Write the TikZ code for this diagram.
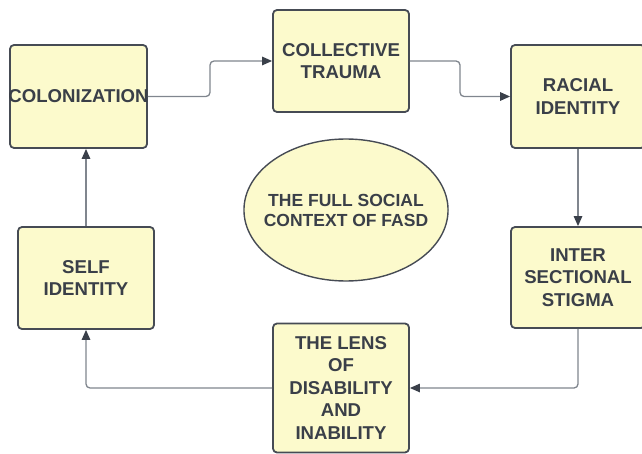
\documentclass[tikz,border=0pt]{standalone}
\usepackage{fontspec}
\setmainfont{Liberation Sans}
\usetikzlibrary{arrows.meta,calc,shapes.geometric}
\definecolor{boxfill}{RGB}{252,250,204}
\definecolor{boxline}{RGB}{70,75,84}
\definecolor{txt}{RGB}{58,63,72}
\definecolor{conn}{RGB}{128,134,142}
\definecolor{tipc}{RGB}{58,64,74}
\tikzset{
  box/.style={draw=boxline, line width=1.8pt, fill=boxfill, rounded corners=4pt,
    align=center, text=txt, font=\fontsize{18.6}{22.5}\selectfont\bfseries, inner sep=0pt},
  ell/.style={ellipse, draw=boxline, line width=1.4pt, fill=boxfill, align=center,
    text=txt, font=\fontsize{17.5}{20}\selectfont\bfseries, inner xsep=-10pt, inner ysep=0pt},
  link/.style={draw=conn, line width=1.3pt, rounded corners=4pt,
    -{Triangle[length=10pt,width=8.5pt,fill=tipc,color=tipc]}}
}
\begin{document}
\begin{tikzpicture}[x=1pt,y=-1pt]
\useasboundingbox (0,0) rectangle (642,454);
\clip (0,0) rectangle (642,454);
\node[box, minimum width=137pt, minimum height=103pt] (col) at (78.5,96.5) {\makebox[0pt][c]{COLONIZATION}};
\node[box, minimum width=136pt, minimum height=102pt] (ct) at (341,61) {COLLECTIVE\\TRAUMA};
\node[box, minimum width=134pt, minimum height=103pt] (rac) at (578,96.5) {RACIAL\\IDENTITY};
\node[box, minimum width=134pt, minimum height=101pt] (inter) at (578,277.5) {INTER\\SECTIONAL\\STIGMA};
\node[box, minimum width=136pt, minimum height=129pt] (lens) at (341,388) {THE LENS\\OF\\DISABILITY\\AND\\INABILITY};
\node[box, minimum width=136pt, minimum height=102pt] (self) at (86,278) {SELF\\IDENTITY};
\node[ell, minimum width=202pt, minimum height=142pt] (ctx) at (346,210) {THE FULL SOCIAL\\CONTEXT OF FASD};
\draw[link] (col.east) -| ($(col.east)!.5!(ct.west)$) |- (ct.west);
\draw[link] (ct.east) -| ($(ct.east)!.5!(rac.west)$) |- (rac.west);
\draw[link] (rac.south) -- (inter.north);
\draw[link] (inter.south) |- (lens.east);
\draw[link] (lens.west) -| (self.south);
\draw[link] (self.north) -- (self.north |- col.south);
\end{tikzpicture}
\end{document}
